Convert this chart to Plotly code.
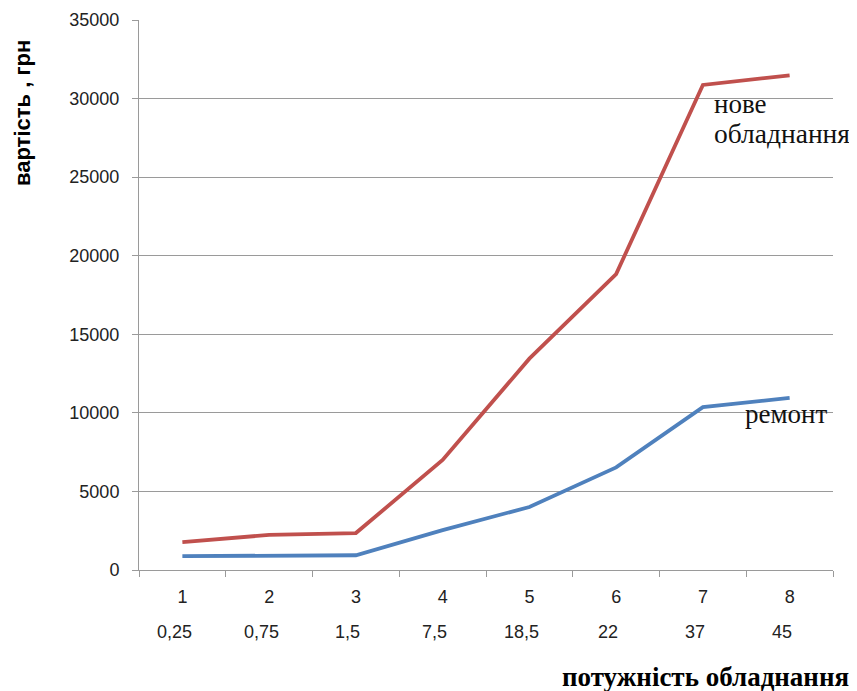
import plotly.graph_objects as go

categories = ["1", "2", "3", "4", "5", "6", "7", "8"]
power_labels = ["0,25", "0,75", "1,5", "7,5", "18,5", "22", "37", "45"]
new_equipment = [1780, 2230, 2350, 7000, 13450, 18830, 30870, 31480]
repair = [880, 930, 940, 2540, 4010, 6530, 10360, 10950]
y_ticks = [0, 5000, 10000, 15000, 20000, 25000, 30000, 35000]

xpos = list(range(1, len(categories) + 1))
boundaries = [p - 0.5 for p in xpos] + [xpos[-1] + 0.5]

OFF = 8  # page body margin
W, H = 857, 691
L, R, T, B = 131, 32, 12, 129
pw, ph = W - L - R, H - T - B

def px_x(x):
    return (x - OFF - L) / pw

def px_y(y):
    return (H - B - (y - OFF)) / ph

fig = go.Figure()
fig.add_trace(go.Scatter(x=xpos, y=new_equipment, mode="lines",
                         line=dict(color="#C0504D", width=3.8), name="нове обладнання"))
fig.add_trace(go.Scatter(x=xpos, y=repair, mode="lines",
                         line=dict(color="#4F81BD", width=3.8), name="ремонт"))

tick_font = dict(family="Liberation Sans, Arial", size=18, color="#222")
serif = "Liberation Serif, Times New Roman"

annotations = []
for p, lab in zip(xpos, power_labels):
    annotations.append(dict(x=p, y=0, xref="x", yref="paper", text=lab, showarrow=False,
                            yanchor="middle", yshift=-62, xshift=-8, font=tick_font))

annotations.append(dict(text="нове", x=xpos[6], y=new_equipment[6], xref="x", yref="y",
                        xanchor="left", yanchor="middle", xshift=9, yshift=-19,
                        showarrow=False, font=dict(family=serif, size=27, color="#111")))
annotations.append(dict(text="обладнання", x=xpos[6], y=new_equipment[6], xref="x", yref="y",
                        xanchor="left", yanchor="middle", xshift=9, yshift=-49,
                        showarrow=False, font=dict(family=serif, size=27.5, color="#111")))
annotations.append(dict(text="ремонт", x=xpos[7], y=repair[7], xref="x", yref="y",
                        xanchor="center", yanchor="middle", xshift=-3, yshift=-16,
                        showarrow=False, font=dict(family=serif, size=27, color="#111")))
annotations.append(dict(text="<b>вартість , грн</b>", x=px_x(23), y=px_y(113),
                        xref="paper", yref="paper", showarrow=False, textangle=-90,
                        xanchor="center", yanchor="middle",
                        font=dict(family="Liberation Sans, Arial", size=22, color="#000")))
annotations.append(dict(text="<b>потужність обладнання</b>", x=px_x(560), y=px_y(677),
                        xref="paper", yref="paper", showarrow=False,
                        xanchor="left", yanchor="middle",
                        font=dict(family=serif, size=27, color="#000")))

fig.update_layout(
    width=W, height=H,
    margin=dict(l=L, r=R, t=T, b=B, autoexpand=False),
    paper_bgcolor="white", plot_bgcolor="white",
    showlegend=False,
    xaxis=dict(range=[boundaries[0], boundaries[-1]], tickvals=xpos, ticktext=categories,
               ticks="", showline=True, linecolor="#9a9a9a", linewidth=1,
               showgrid=False, zeroline=False, tickfont=tick_font, ticklabelstandoff=10,
               minor=dict(tickvals=boundaries, ticks="outside", ticklen=6,
                          tickcolor="#9a9a9a", showgrid=False)),
    yaxis=dict(range=[0, 35000], tickvals=y_ticks, tickformat="d", ticks="outside", ticklen=6,
               tickcolor="#9a9a9a", showline=True, linecolor="#9a9a9a", linewidth=1,
               showgrid=True, gridcolor="#9a9a9a", gridwidth=1, zeroline=False,
               tickfont=tick_font, ticklabelstandoff=9),
    annotations=annotations,
)

fig.write_html("out.html")
